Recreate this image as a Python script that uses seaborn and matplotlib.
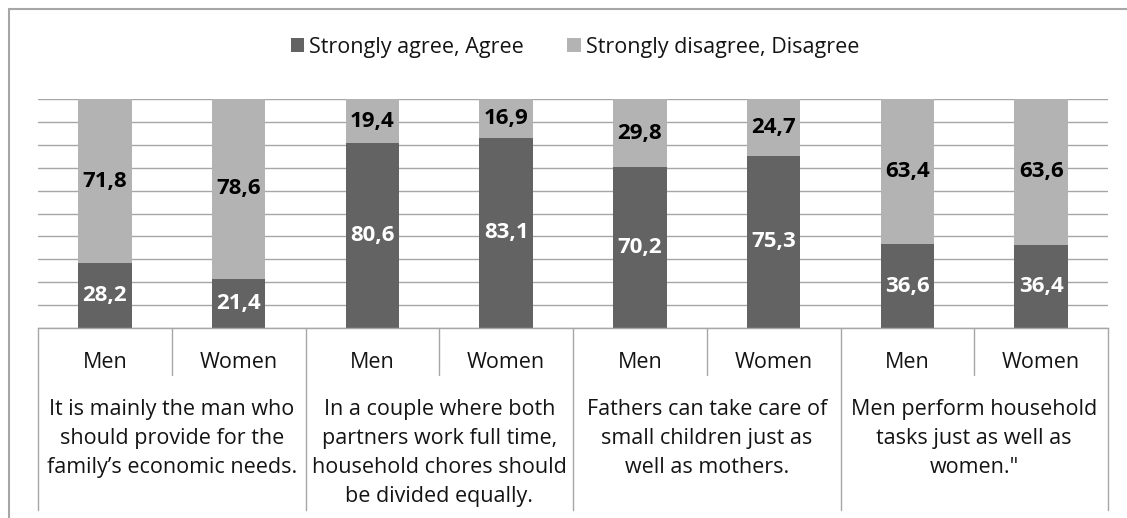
import matplotlib
matplotlib.use("Agg")
import matplotlib.pyplot as plt
from matplotlib.lines import Line2D
from matplotlib.patches import Patch
import seaborn as sns
import pandas as pd

statements = [
    "It is mainly the man who\nshould provide for the\nfamily\u2019s economic needs.",
    "In a couple where both\npartners work full time,\nhousehold chores should\nbe divided equally.",
    "Fathers can take care of\nsmall children just as\nwell as mothers.",
    "Men perform household\ntasks just as well as\nwomen.\"",
]
genders = ["Men", "Women"]
agree_men = [28.2, 80.6, 70.2, 36.6]
agree_women = [21.4, 83.1, 75.3, 36.4]
disagree_men = [71.8, 19.4, 29.8, 63.4]
disagree_women = [78.6, 16.9, 24.7, 63.6]
series_names = ["Strongly agree, Agree", "Strongly disagree, Disagree"]

DARK = "#636363"
LIGHT = "#b3b3b3"
LINE = "#a6a6a6"
TXT = "#141414"

rows = []
for i in range(len(statements)):
    rows.append((f"S{i}-Men", agree_men[i], disagree_men[i]))
    rows.append((f"S{i}-Women", agree_women[i], disagree_women[i]))
df = pd.DataFrame(rows, columns=["bar", "agree", "disagree"])

sns.set_theme(style="white")
plt.rcParams["font.family"] = ["Open Sans", "DejaVu Sans"]

fig = plt.figure(figsize=(11.27, 5.18), dpi=100)
ax = fig.add_axes([38 / 1127, 1 - 328 / 518, (1108 - 38) / 1127, (328 - 99) / 518])

sns.barplot(data=df, x="bar", y="agree", color=DARK, width=0.4, ax=ax,
            saturation=1, linewidth=0, zorder=2)
sns.barplot(data=df, x="bar", y="disagree", color=LIGHT, width=0.4, ax=ax,
            saturation=1, linewidth=0, bottom=df["agree"].values, zorder=2)

fmt = lambda v: f"{v:.1f}".replace(".", ",")
c0, c1 = ax.containers[0], ax.containers[1]
ax.bar_label(c0, labels=[fmt(v) for v in df["agree"]], label_type="center",
             color="white", fontsize=16, fontweight="bold")
ax.bar_label(c1, labels=[fmt(v) for v in df["disagree"]], label_type="center",
             color="black", fontsize=16, fontweight="bold")

ax.set_ylim(0, 100)
ax.set_xlim(-0.5, len(df) - 0.5)
ax.set_yticks(range(0, 101, 10))
ax.yaxis.grid(True, color=LINE, linewidth=1)
ax.xaxis.grid(False)
ax.set_axisbelow(True)
ax.tick_params(axis="both", length=0, labelleft=False, labelbottom=False)
ax.set_xlabel("")
ax.set_ylabel("")
for s in ["left", "right", "top"]:
    ax.spines[s].set_visible(False)
ax.spines["bottom"].set_color(LINE)
ax.spines["bottom"].set_linewidth(1)

# two-level category table below the axis
tr = ax.get_xaxis_transform()
row1_bottom = -47 / 229
table_bottom = -182 / 229
n = len(df)
for k in range(n + 1):
    xpos = k - 0.5
    y1 = table_bottom if k % 2 == 0 else row1_bottom
    ax.add_line(Line2D([xpos, xpos], [0, y1], transform=tr, color=LINE,
                       linewidth=1, clip_on=False))
for k in range(n):
    ax.text(k, -34 / 229, genders[k % 2], transform=tr, ha="center", va="center",
            fontsize=15.5, color=TXT)
for i, s in enumerate(statements):
    ax.text(2 * i + 0.5, -71 / 229, s, transform=tr, ha="center", va="top",
            multialignment="center", fontsize=15.5, color=TXT, linespacing=1.5)

# legend
handles = [Patch(facecolor=DARK, edgecolor="none"), Patch(facecolor=LIGHT, edgecolor="none")]
fig.legend(handles, series_names, loc="center", bbox_to_anchor=(575 / 1127, 1 - 47 / 518),
           ncol=2, frameon=False, fontsize=15.5, handlelength=0.62, handleheight=0.62,
           handletextpad=0.25, columnspacing=2.0, labelcolor=TXT)

# outer border (partially visible)
fig.add_artist(Line2D([8.5 / 1127, 8.5 / 1127], [0, 1 - 8.5 / 518], color=LINE, linewidth=1.5))
fig.add_artist(Line2D([8.5 / 1127, 1], [1 - 8.5 / 518, 1 - 8.5 / 518], color=LINE, linewidth=1.5))

fig.savefig("out.png", dpi=100, facecolor="white")
